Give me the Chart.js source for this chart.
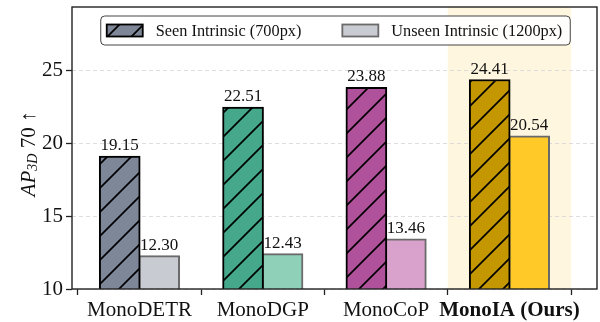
<!DOCTYPE html>
<html><head><meta charset="utf-8">
<script src="https://cdn.jsdelivr.net/npm/chart.js@4/dist/chart.umd.min.js"></script>
<style>html,body{margin:0;padding:0;background:#fff}#wrap{width:600px;height:322px;position:relative}</style>
</head><body><div id="wrap"><canvas id="c"></canvas></div>
<script>
const categories = ['MonoDETR', 'MonoDGP', 'MonoCoP', 'MonoIA (Ours)'];
const seenValues = [19.15, 22.51, 23.88, 24.41];
const unseenValues = [12.30, 12.43, 13.46, 20.54];
const seriesLabels = ['Seen Intrinsic (700px)', 'Unseen Intrinsic (1200px)'];
const yTicks = [10, 15, 20, 25];
const seenColors = ['#7e8798', '#45a88a', '#b0519c', '#c49600'];
const unseenColors = ['#c8cbd2', '#8fd0b9', '#d9a2cc', '#ffca28'];
const highlightIndex = 3;

const SERIF = '"Liberation Serif", "Times New Roman", Times, serif';
const OFF = 0.16;

function makeHatch(bg) {
  const s = 24;
  const c = document.createElement('canvas');
  c.width = s; c.height = s;
  const g = c.getContext('2d');
  g.fillStyle = bg; g.fillRect(0, 0, s, s);
  g.strokeStyle = '#000'; g.lineWidth = 1.7; g.lineCap = 'square';
  g.beginPath();
  g.moveTo(-2, s + 2); g.lineTo(s + 2, -2);
  g.moveTo(-2, 2); g.lineTo(2, -2);
  g.moveTo(s - 2, s + 2); g.lineTo(s + 2, s - 2);
  g.stroke();
  return document.createElement('canvas').getContext('2d').createPattern(c, 'repeat');
}
const seenPatterns = seenColors.map(makeHatch);

const bgPlugin = {
  id: 'bg',
  beforeDraw(chart) {
    const {ctx, chartArea: a, scales: {x}} = chart;
    ctx.save();
    ctx.fillStyle = '#fff';
    ctx.fillRect(0, 0, chart.width, chart.height);
    const l = x.getPixelForValue(highlightIndex - 0.5);
    const r = x.getPixelForValue(highlightIndex + 0.5);
    ctx.fillStyle = '#fff6df';
    ctx.fillRect(l, a.top, r - l, a.bottom - a.top);
    ctx.restore();
  }
};

const labelPlugin = {
  id: 'vals',
  afterDatasetsDraw(chart) {
    const ctx = chart.ctx;
    ctx.save();
    ctx.font = '17px ' + SERIF;
    ctx.fillStyle = '#111';
    ctx.textAlign = 'center';
    ctx.textBaseline = 'bottom';
    chart.data.datasets.forEach((ds, di) => {
      chart.getDatasetMeta(di).data.forEach((el, i) => {
        ctx.fillText(ds.data[i].y.toFixed(2), el.x, el.y - 2);
      });
    });
    ctx.restore();
  },
  afterDraw(chart) {
    const {ctx, chartArea: a} = chart;
    ctx.save();
    // frame
    ctx.strokeStyle = '#222'; ctx.lineWidth = 1.4;
    ctx.strokeRect(a.left, a.top, a.right - a.left, a.bottom - a.top);
    // legend
    ctx.font = '16.3px ' + SERIF;
    const sw = 36, sh = 12, padL = 6, gapT = 13, gapItem = 41, padR = 8;
    const w0 = ctx.measureText(seriesLabels[0]).width;
    const w1 = ctx.measureText(seriesLabels[1]).width;
    const total = padL + sw + gapT + w0 + gapItem + sw + gapT + w1 + padR;
    const lx = (a.left + a.right) / 2 + 1 - total / 2;
    const ly = a.top + 9, lh = 29;
    ctx.beginPath();
    ctx.roundRect(lx, ly, total, lh, 4);
    ctx.fillStyle = 'rgba(255,255,255,0.9)'; ctx.fill();
    ctx.strokeStyle = '#444'; ctx.lineWidth = 1; ctx.stroke();
    const cy = ly + lh / 2;
    let px = lx + padL;
    ctx.fillStyle = makeHatch(seenColors[0]);
    ctx.fillRect(px, cy - sh / 2, sw, sh);
    ctx.strokeStyle = '#000'; ctx.lineWidth = 1.8;
    ctx.strokeRect(px, cy - sh / 2, sw, sh);
    px += sw + gapT;
    ctx.fillStyle = '#111'; ctx.textBaseline = 'middle'; ctx.textAlign = 'left';
    ctx.fillText(seriesLabels[0], px, cy + 1);
    px += w0 + gapItem;
    ctx.fillStyle = unseenColors[0];
    ctx.fillRect(px, cy - sh / 2, sw, sh);
    ctx.strokeStyle = '#6a6a6a'; ctx.lineWidth = 1.8;
    ctx.strokeRect(px, cy - sh / 2, sw, sh);
    px += sw + gapT;
    ctx.fillStyle = '#111';
    ctx.fillText(seriesLabels[1], px, cy + 1);
    // y title
    ctx.translate(27, (a.top + a.bottom) / 2 + 6);
    ctx.rotate(-Math.PI / 2);
    const parts = [
      {t: 'AP', f: 'italic 21px ' + SERIF, dy: 0},
      {t: '3D', f: 'italic 14px ' + SERIF, dy: 4},
      {t: ' 70 \u2191', f: '21px ' + SERIF, dy: 0}
    ];
    let tw = 0;
    parts.forEach(p => { ctx.font = p.f; p.w = ctx.measureText(p.t).width; tw += p.w; });
    let tx = -tw / 2;
    ctx.textBaseline = 'middle'; ctx.textAlign = 'left'; ctx.fillStyle = '#111';
    parts.forEach(p => { ctx.font = p.f; ctx.fillText(p.t, tx, p.dy + 2); tx += p.w; });
    ctx.restore();
  }
};

new Chart(document.getElementById('c'), {
  type: 'bar',
  data: {
    datasets: [
      {
        label: seriesLabels[0],
        data: seenValues.map((v, i) => ({x: i - OFF, y: v})),
        backgroundColor: seenPatterns,
        borderColor: '#000',
        borderWidth: 2,
        order: 0
      },
      {
        label: seriesLabels[1],
        data: unseenValues.map((v, i) => ({x: i + OFF, y: v})),
        backgroundColor: unseenColors,
        borderColor: '#6a6a6a',
        borderWidth: 2,
        order: 1
      }
    ]
  },
  options: {
    responsive: true,
    maintainAspectRatio: false,
    animation: false,
    grouped: false,
    barThickness: 41,
    layout: {padding: {left: 0, right: 3, top: 7, bottom: 0}},
    plugins: {legend: {display: false}, tooltip: {enabled: false}},
    scales: {
      x: {
        type: 'linear',
        min: -0.547,
        max: 3.71,
        offset: false,
        afterFit(s) { s.height = 33; s.paddingLeft = 0; s.paddingRight = 0; },
        afterBuildTicks(s) { s.ticks = categories.map((_, i) => ({value: i})); },
        grid: {display: true, drawOnChartArea: false, tickLength: 6, tickColor: '#222', tickWidth: 1.3},
        border: {display: false},
        ticks: {
          includeBounds: false,
          autoSkip: false,
          maxRotation: 0,
          padding: 3,
          color: '#111',
          callback: v => categories[v] ?? '',
          font: c => ({family: SERIF, size: 21, weight: c.index === highlightIndex ? 'bold' : 'normal'})
        }
      },
      y: {
        min: 10,
        max: 29.4,
        afterFit(s) { s.width = 72; s.paddingTop = 0; s.paddingBottom = 0; },
        afterBuildTicks(s) { s.ticks = yTicks.map(v => ({value: v})); },
        grid: {color: '#d4d4d4', lineWidth: 0.8, tickLength: 6, tickColor: '#222', tickWidth: 1.3},
        border: {display: false, dash: [4, 3]},
        ticks: {includeBounds: false, padding: 3, color: '#111', font: {family: SERIF, size: 21}}
      }
    }
  },
  plugins: [bgPlugin, labelPlugin]
});
</script>
</body></html>
